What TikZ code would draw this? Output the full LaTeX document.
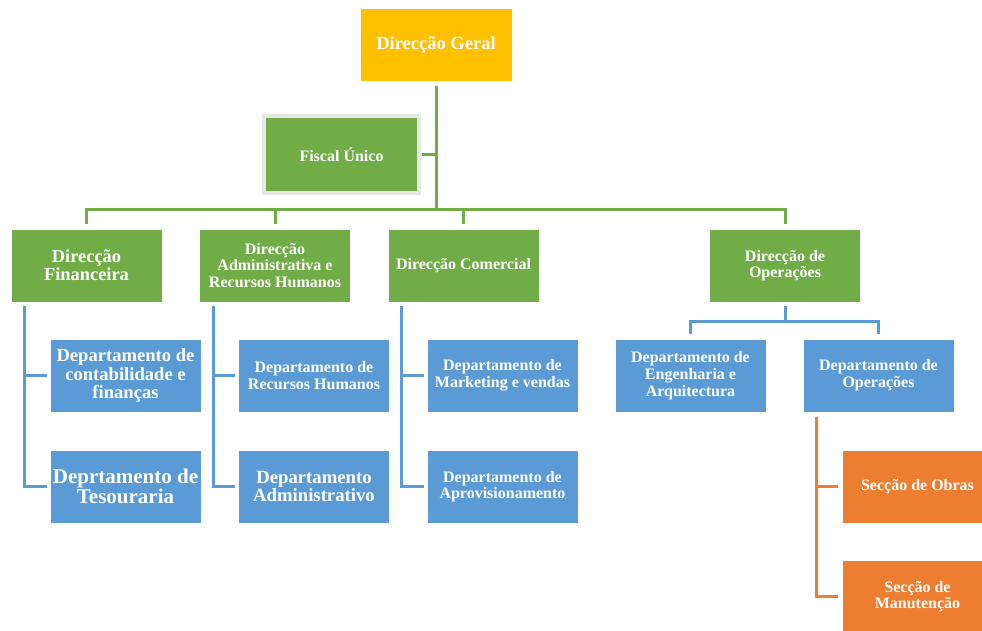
\documentclass[tikz,border=0pt]{standalone}
\usepackage{fontspec}
\setmainfont{Liberation Serif}
\definecolor{cyellow}{HTML}{FFC000}
\definecolor{cgreen}{HTML}{70AD47}
\definecolor{cblue}{HTML}{5B9BD5}
\definecolor{corange}{HTML}{ED7D31}
\definecolor{cgray}{HTML}{E7E6E6}
\tikzset{
  box/.style={rectangle, minimum width=151pt, minimum height=73pt, inner sep=0pt,
    text=white, align=center, draw=white, line width=0.8pt,
    font={\fontsize{16}{16.7}\selectfont\bfseries}},
  ybox/.style={box, fill=cyellow, minimum width=152pt},
  gbox/.style={box, fill=cgreen},
  bbox/.style={box, fill=cblue},
  obox/.style={box, fill=corange},
  fbox/.style={box, fill=cgreen, draw=cgray, line width=4pt, minimum width=155pt, minimum height=77pt},
  gline/.style={draw=cgreen, line width=3pt},
  bline/.style={draw=cblue, line width=3pt},
  oline/.style={draw=corange, line width=3pt},
}
\begin{document}
\begin{tikzpicture}[x=1pt, y=-1pt]
\useasboundingbox (0,0) rectangle (982,631);
\clip (0,0) rectangle (982,631);
% nodes
\node[ybox, font={\fontsize{18.5}{19}\selectfont\bfseries}] (geral) at (436,44.5) {Direcção Geral};
\node[fbox] (fiscal) at (341.5,154.5) {Fiscal Único};
\node[gbox, font={\fontsize{18.4}{18.3}\selectfont\bfseries}] (fin) at (86.5,265.5) {Direcção\\Financeira};
\node[gbox] (adm) at (275,265.5) {Direcção\\Administrativa e\\Recursos Humanos};
\node[gbox] (com) at (463.5,265.5) {Direcção Comercial};
\node[gbox] (ops) at (785,265.5) {Direcção de\\Operações};
\node[bbox, font={\fontsize{18.6}{18.8}\selectfont\bfseries}] (contab) at (125.5,375.5) {Departamento de\\contabilidade e\\finanças};
\node[bbox, font={\fontsize{21}{20}\selectfont\bfseries}] (tes) at (125.5,486.5) {Deprtamento de\\Tesouraria};
\node[bbox] (rh) at (314,375.5) {Departamento de\\Recursos Humanos};
\node[bbox, font={\fontsize{18.7}{18.3}\selectfont\bfseries}] (admdep) at (314,486.5) {Departamento\\Administrativo};
\node[bbox] (mkt) at (502.5,375.5) {Departamento de\\Marketing e vendas};
\node[bbox] (aprov) at (502.5,486.5) {Departamento de\\Aprovisionamento};
\node[bbox] (eng) at (690.5,375.5) {Departamento de\\Engenharia e\\Arquitectura};
\node[bbox] (dops) at (878.5,375.5) {Departamento de\\Operações};
\node[obox] (obras) at (917.5,486.5) {Secção de Obras};
\node[obox] (manut) at (917.5,596.5) {Secção de\\Manutenção};
% coordinates
\coordinate (bus) at (436,210);
\coordinate (opsbus) at (785,321);
\coordinate (fv) at ([xshift=14pt]fin.south west);
\coordinate (av) at ([xshift=14pt]adm.south west);
\coordinate (cv) at ([xshift=14pt]com.south west);
\coordinate (ov) at ([xshift=14pt]dops.south west);
% green connectors
\draw[gline] ([yshift=-5pt]geral.south) -- (geral.south |- bus);
\draw[gline] ([yshift=5pt]fin.north) |- (ops.north |- bus) -- ([yshift=5pt]ops.north);
\draw[gline] ([yshift=5pt]adm.north) -- (adm.north |- bus);
\draw[gline] ([yshift=5pt]com.north) -- (com.north |- bus);
\draw[gline] ([xshift=1pt]fiscal.east) -- (fiscal.east -| geral.south);
% blue connectors
\draw[bline] ([yshift=-4pt]fv) |- ([xshift=-3pt]tes.west);
\draw[bline] ([xshift=-3pt]contab.west) -- (contab.west -| fv);
\draw[bline] ([yshift=-4pt]av) |- ([xshift=-3pt]admdep.west);
\draw[bline] ([xshift=-3pt]rh.west) -- (rh.west -| av);
\draw[bline] ([yshift=-4pt]cv) |- ([xshift=-3pt]aprov.west);
\draw[bline] ([xshift=-3pt]mkt.west) -- (mkt.west -| cv);
\draw[bline] ([yshift=-4pt]ops.south) -- (ops.south |- opsbus);
\draw[bline] ([yshift=5pt]eng.north) |- (dops.north |- opsbus) -- ([yshift=5pt]dops.north);
% orange connectors
\draw[oline] ([yshift=-5pt]ov) |- ([xshift=-4pt]manut.west);
\draw[oline] ([xshift=-4pt]obras.west) -- (obras.west -| ov);
\end{tikzpicture}
\end{document}
